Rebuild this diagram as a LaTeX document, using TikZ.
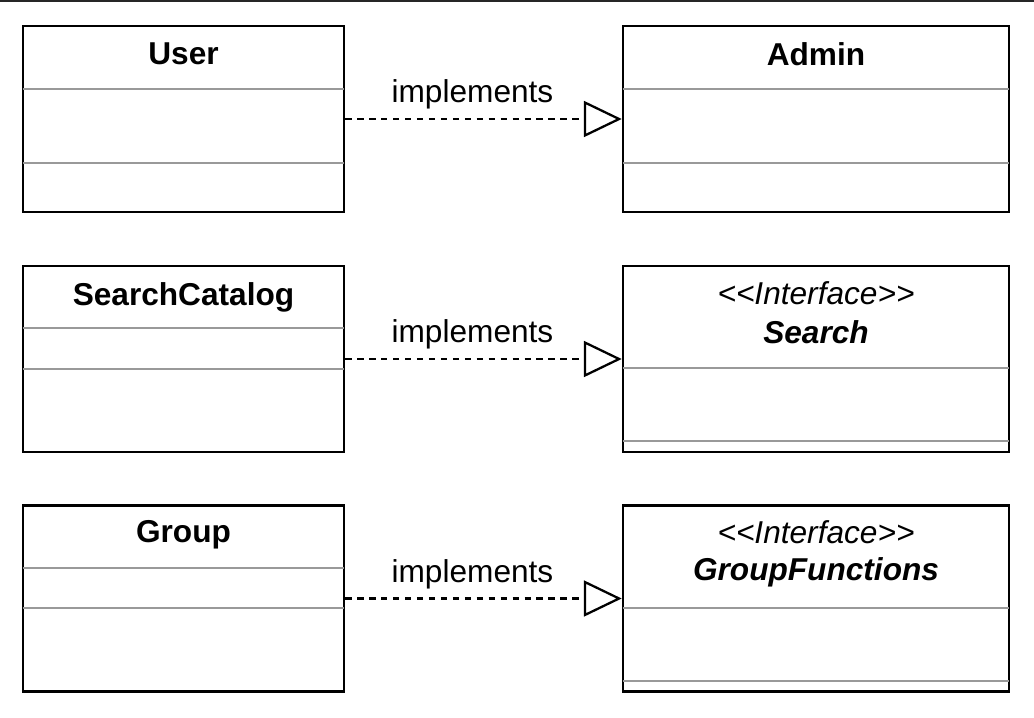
\documentclass[tikz,border=0pt]{standalone}
\usepackage{fontspec}
\setmainfont{Liberation Sans}
\usetikzlibrary{arrows.meta,calc}

\tikzset{
  classbox/.style={draw,line width=1.5pt,minimum height=3.72cm,inner sep=0pt},
  sepline/.style={draw=black!40,line width=1.3pt},
  classname/.style={font=\bfseries\fontsize{18}{22}\selectfont,inner sep=0pt},
  stereo/.style={font=\itshape\fontsize{18}{22}\selectfont,inner sep=0pt},
  ifname/.style={font=\bfseries\itshape\fontsize{18}{22}\selectfont,inner sep=0pt},
  realizes/.style={dash pattern=on 3.6pt off 3.2pt,line width=1.3pt,
    -{Triangle[open,length=21.5pt,width=20.4pt]}},
  relname/.style={font=\fontsize{18}{22}\selectfont,inner sep=0pt,pos=0.46,above=5pt}
}

\begin{document}
\begin{tikzpicture}[x=0.02cm,y=-0.02cm]
  \useasboundingbox (0,0) rectangle (1034,717);
  \draw[line width=1.3pt,black!85] (0,1) -- (1034,1);

  % classes on the left
  \node (user) at (183.5,119) [classbox,minimum width=6.42cm]{};
  \node (catalog) at (183.5,359) [classbox,minimum width=6.42cm]{};
  \node (group) at (183.5,598.5) [classbox,minimum width=6.42cm]{};
  % classes on the right
  \node (admin) at (816,119) [classbox,minimum width=7.72cm]{};
  \node (search) at (816,359) [classbox,minimum width=7.72cm]{};
  \node (groupfn) at (816,598.5) [classbox,minimum width=7.72cm]{};

  \node (usert) at (183.5,54) [classname]{User};
  \node (catalogt) at (183.5,297) [classname]{SearchCatalog};
  \node (groupt) at (183.5,535) [classname]{Group};
  \node (admint) at (816,54) [classname]{Admin};
  \node (searchs) at (816,293) [stereo]{<{}<Interface>{}>};
  \node (searcht) at (816,332) [ifname]{Search};
  \node (groupfns) at (816,532) [stereo]{<{}<Interface>{}>};
  \node (groupfnt) at (816,572) [ifname]{GroupFunctions};

  \foreach \b/\d in {user/64,user/138,admin/64,admin/138,catalog/63,catalog/104,
                     search/103,search/176,group/64,group/104,groupfn/104,groupfn/177}
  {
    \draw[sepline] ($(\b.north west)+(1,\d)$) -- ($(\b.north east)+(-1,\d)$);
  }

  \draw[realizes] (user) -- node[relname]{implements} (admin);
  \draw[realizes] (catalog) -- node[relname]{implements} (search);
  \draw[realizes] (group) -- node[relname]{implements} (groupfn);
\end{tikzpicture}
\end{document}
